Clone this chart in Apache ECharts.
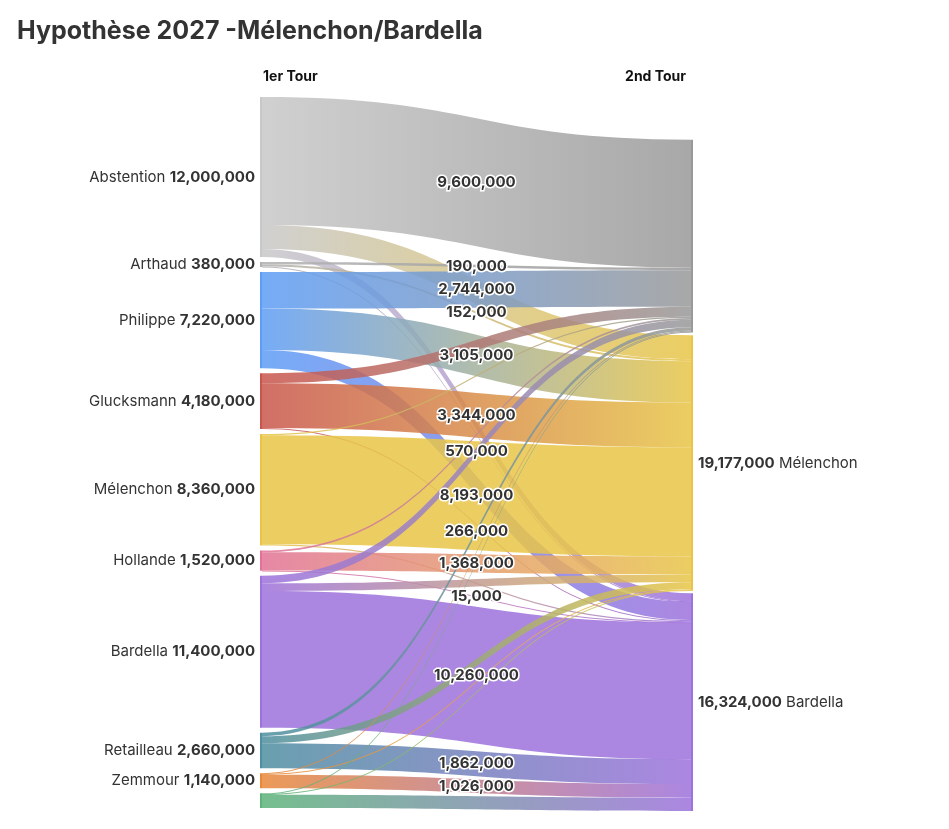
<!DOCTYPE html>
<html><head><meta charset="utf-8">
<script src="https://cdn.jsdelivr.net/npm/echarts@6/dist/echarts.min.js"></script>
<style>html,body{margin:0;padding:0;background:#fff}#c{width:949px;height:829px}</style>
</head><body><div id="c"></div>
<script>
const leftNodes = ['Abstention','Arthaud','Philippe','Glucksmann','Mélenchon','Hollande','Bardella','Retailleau','Zemmour','Autres'];
const leftColors = ['#c8c8c8','#b0b0b0','#5e9df5','#c9564c','#e8c547','#e27396','#9d72dc','#4e8fa0','#e8883a','#5db37a'];
const leftShowLabel = [true,true,true,true,true,true,true,true,true,false];
const rightNodes = ['Abstention ','Mélenchon ','Bardella '];
const rightColors = ['#999999','#e8c547','#9d72dc'];
const rightShowLabel = [false,true,true];
const rightLocalY = [0.06,0.335,0.698];
// flows: [toAbstention, toMélenchon, toBardella]
const flows = [
  [9600000,1800000,600000],
  [190000,152000,38000],
  [2744000,3105000,1371000],
  [752000,3344000,84000],
  [84000,8193000,83000],
  [137000,1368000,15000],
  [570000,570000,10260000],
  [266000,532000,1862000],
  [57000,57000,1026000],
  [57000,56000,985000]
];
const labelled = [
  [1,0,0],[1,1,0],[1,1,0],[0,1,0],[0,1,0],[0,1,1],[1,0,1],[1,0,1],[0,0,1],[0,0,0]
];
const fmt = v => v.toLocaleString('en-US');
const nodes = [];
leftNodes.forEach((n,i)=>nodes.push({name:n,itemStyle:{color:leftColors[i]},
  label:{show:leftShowLabel[i],position:'left'}}));
rightNodes.forEach((n,i)=>nodes.push({name:n,localX:1,localY:rightLocalY[i],itemStyle:{color:rightColors[i]},
  label:{show:rightShowLabel[i],position:'right'}}));
const links = [];
flows.forEach((row,i)=>row.forEach((v,j)=>links.push({source:leftNodes[i],target:rightNodes[j],value:v,
  edgeLabel:{show:!!labelled[i][j]}})));
const chart = echarts.init(document.getElementById('c'));
chart.setOption({
  animation:false,
  textStyle:{fontFamily:'Inter'},
  title:[{text:'Hypothèse 2027 -Mélenchon/Bardella',left:12,top:14,textStyle:{fontSize:25,fontWeight:'bold',color:'#333',fontFamily:'Inter'}},
    {text:'1er Tour',left:258,top:65,textStyle:{fontSize:14,fontWeight:'bold',color:'#111'}},
    {text:'2nd Tour',right:258,top:65,textStyle:{fontSize:14,fontWeight:'bold',color:'#111'}}],
  series:[{
    type:'sankey',left:260,right:258,top:97,bottom:21,
    nodeWidth:2,nodeGap:5,layoutIterations:0,draggable:false,
    data:nodes,links:links,
    lineStyle:{color:'gradient',opacity:0.85,curveness:0.5},
    emphasis:{disabled:true},
    label:{fontSize:15,color:'#333',
      formatter:p=>{
        const v=fmt(p.value);
        return p.name.endsWith(' ')?'{b|'+v+'} '+p.name.trim():p.name+' {b|'+v+'}';
      },
      rich:{b:{fontWeight:'bold',fontSize:15,color:'#333'}}},
    edgeLabel:{show:false,fontSize:15,fontWeight:'bold',color:'#333',textBorderColor:'#fff',textBorderWidth:3,
      formatter:p=>fmt(p.value)}
  }]
});
</script></body></html>
